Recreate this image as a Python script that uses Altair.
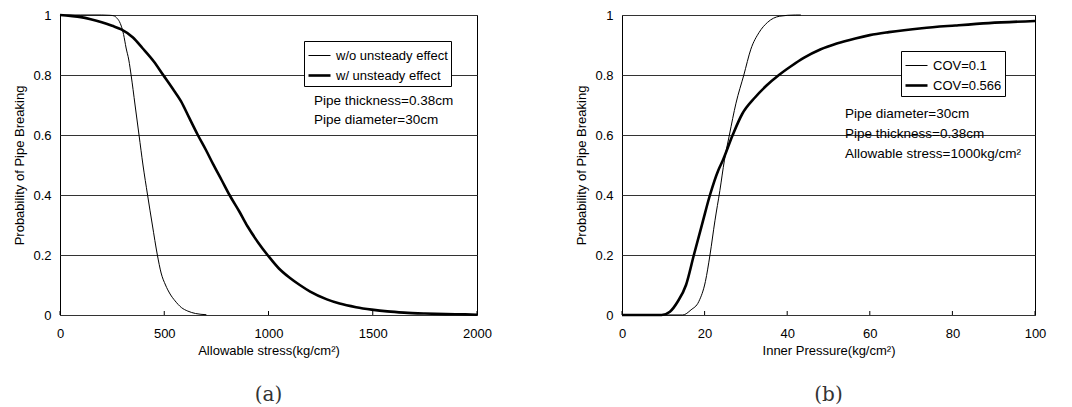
import altair as alt
import pandas as pd

# ---------------- data ----------------
# Panel (a): probability of breaking vs allowable stress
stress_wo_x = [0, 100, 200, 240, 260, 271, 285, 294, 305, 317, 330, 341, 360, 379, 398,
               420, 443, 467, 485, 506, 528, 552, 582, 613, 650, 702]
stress_wo_y = [1.0, 1.0, 1.0, 0.999, 0.997, 0.991, 0.978, 0.963, 0.935, 0.89, 0.85, 0.80,
               0.70, 0.60, 0.50, 0.40, 0.30, 0.20, 0.14, 0.10, 0.07, 0.047, 0.025, 0.013,
               0.005, 0.001]
stress_w_x = [0, 50, 100, 147, 200, 250, 294, 350, 395, 450, 495, 540, 580, 620, 661, 700,
              735, 775, 813, 860, 900, 950, 1000, 1050, 1100, 1150, 1200, 1280, 1341, 1420,
              1495, 1570, 1650, 1750, 1850, 1944, 2000]
stress_w_y = [1.0, 0.997, 0.993, 0.986, 0.976, 0.964, 0.952, 0.925, 0.89, 0.845, 0.80,
              0.755, 0.713, 0.657, 0.60, 0.55, 0.502, 0.45, 0.40, 0.345, 0.295, 0.242,
              0.196, 0.155, 0.125, 0.10, 0.078, 0.052, 0.038, 0.026, 0.018, 0.012, 0.008,
              0.005, 0.003, 0.002, 0.001]
series_a = ["w/o unsteady effect", "w/ unsteady effect"]

# Panel (b): probability of breaking vs inner pressure
press_c1_x = [0, 10, 14.7, 16.7, 18.6, 20.2, 21.3, 22.5, 23.7, 24.8, 26.0, 27.6, 29.5,
              31.2, 33.2, 35.2, 38.2, 42.0, 43.3]
press_c1_y = [0, 0, 0, 0.017, 0.045, 0.112, 0.20, 0.314, 0.415, 0.516, 0.60, 0.706, 0.80,
              0.886, 0.942, 0.975, 0.996, 1.0, 1.0]
press_c2_x = [0, 5, 9.6, 11.6, 13.5, 15.5, 17.4, 19.4, 21.3, 23.3, 24.4, 26.8, 29.1, 32.2,
              35.0, 38.0, 41.0, 44.0, 48.0, 52.0, 56.5, 60.0, 64.6, 72.6, 80.7, 88.8, 100]
press_c2_y = [0, 0, 0, 0.011, 0.045, 0.10, 0.20, 0.303, 0.40, 0.482, 0.515, 0.60, 0.67,
              0.725, 0.765, 0.80, 0.83, 0.857, 0.885, 0.905, 0.922, 0.933, 0.943, 0.956,
              0.965, 0.973, 0.98]
series_b = ["COV=0.1", "COV=0.566"]

x_ticks_a = [0, 500, 1000, 1500, 2000]
x_ticks_b = [0, 20, 40, 60, 80, 100]
y_ticks = [0, 0.2, 0.4, 0.6, 0.8, 1.0]

notes_a = ["Pipe thickness=0.38cm", "Pipe diameter=30cm"]
notes_b = ["Pipe diameter=30cm", "Pipe thickness=0.38cm", "Allowable stress=1000kg/cm\u00b2"]

FONT = "Liberation Sans"


def make_df(xs1, ys1, xs2, ys2, names):
    rows = [{"x": a, "y": b, "series": names[0]} for a, b in zip(xs1, ys1)]
    rows += [{"x": a, "y": b, "series": names[1]} for a, b in zip(xs2, ys2)]
    return pd.DataFrame(rows)


def panel(df, names, xdom, xticks, xtitle, notes, note_x, note_y0, note_dy,
          leg_x, leg_y, w, h, tag):
    xenc = alt.X("x:Q", scale=alt.Scale(domain=xdom, nice=False, zero=False),
                 axis=alt.Axis(values=xticks, format="d", title=xtitle, grid=False,
                               ticks=False, domain=False, labelFlush=False,
                               labelPadding=12, titlePadding=4))
    lines = alt.Chart(df).mark_line(color="black", strokeCap="butt",
                                    interpolate="monotone").encode(
        x=xenc,
        y=alt.Y("y:Q", scale=alt.Scale(domain=[0, 1], nice=False),
                axis=alt.Axis(values=y_ticks, format=".1~f", grid=True, gridColor="#333",
                              gridWidth=1, ticks=False, domain=False, labelFlush=False,
                              labelPadding=9, titlePadding=6,
                              title="Probability of Pipe Breaking")),
        strokeWidth=alt.StrokeWidth(
            "series:N",
            scale=alt.Scale(domain=names, range=[1, 2.6]),
            legend=alt.Legend(orient="none", legendX=leg_x, legendY=leg_y, title=None,
                              fillColor="white", strokeColor="black", padding=3,
                              symbolType="stroke", symbolSize=484,
                              symbolStrokeColor="black", labelFont=FONT,
                              labelFontSize=13, labelColor="black", labelOffset=4,
                              rowPadding=0, labelLimit=0)),
    )
    ticks = alt.Chart(pd.DataFrame({"x": xticks})).mark_rule(color="black").encode(
        x=xenc,
        y=alt.value(h),
        y2=alt.value(h - 4),
    )
    layers = [lines, ticks]
    for i, note in enumerate(notes):
        layers.append(
            alt.Chart(pd.DataFrame({"t": [note]})).mark_text(
                align="left", baseline="middle", font=FONT, fontSize=13.5, color="black"
            ).encode(x=alt.value(note_x), y=alt.value(note_y0 + i * note_dy), text="t:N")
        )
    return alt.layer(*layers).properties(
        width=w, height=h,
        title=alt.TitleParams(tag, orient="bottom", font="DejaVu Serif", fontSize=20,
                              fontWeight="normal", color="#333", offset=28),
    )


df_a = make_df(stress_wo_x, stress_wo_y, stress_w_x, stress_w_y, series_a)
df_b = make_df(press_c1_x, press_c1_y, press_c2_x, press_c2_y, series_b)

pa = panel(df_a, series_a, [0, 2000], x_ticks_a, "Allowable stress(kg/cm\u00b2)",
           notes_a, 254, 86, 19, 244, 26, 417, 300, "(a)")
pb = panel(df_b, series_b, [0, 100], x_ticks_b, "Inner Pressure(kg/cm\u00b2)",
           notes_b, 223, 99, 20, 279, 36, 413, 300, "(b)")

chart = alt.hconcat(pa, pb, spacing=83).resolve_scale(
    strokeWidth="independent"
).resolve_legend(
    strokeWidth="independent"
).properties(
    padding={"left": 5, "top": 0, "right": 5, "bottom": 0},
    background="white",
).configure_view(
    stroke="black", strokeWidth=1
).configure_axis(
    labelFont=FONT, titleFont=FONT, labelFontSize=13, titleFontSize=13,
    titleFontWeight="normal", labelColor="black", titleColor="black"
)

chart.save("out.html", embed_options={"renderer": "svg", "actions": False})
